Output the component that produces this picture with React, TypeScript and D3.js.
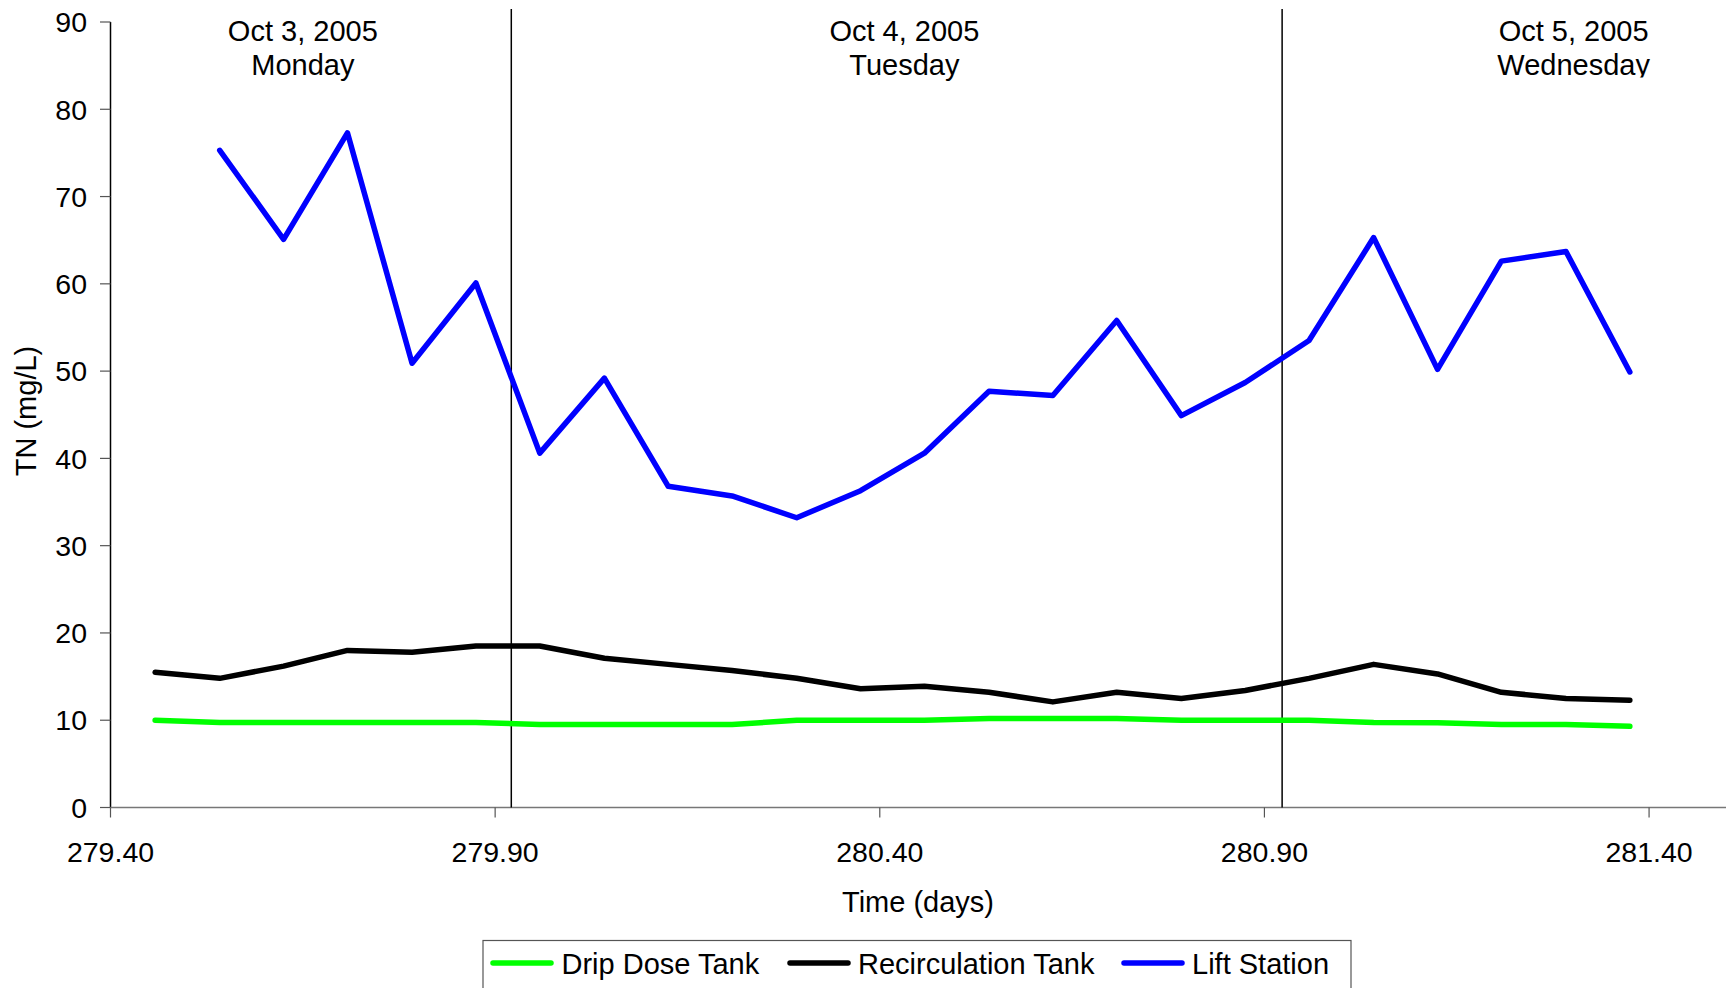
import React from 'react';
import * as d3 from 'd3';

const times = [279.458, 279.542, 279.625, 279.708, 279.792, 279.875, 279.958, 280.042, 280.125, 280.208, 280.292, 280.375, 280.458, 280.542, 280.625, 280.708, 280.792, 280.875, 280.958, 281.042, 281.125, 281.208, 281.292, 281.375];
const dripDose = [10.0, 9.75, 9.75, 9.75, 9.75, 9.75, 9.5, 9.5, 9.5, 9.5, 10.0, 10.0, 10.0, 10.2, 10.2, 10.2, 10.0, 10.0, 10.0, 9.75, 9.7, 9.5, 9.5, 9.3];
const recirculation = [15.5, 14.8, 16.2, 18.0, 17.8, 18.5, 18.5, 17.1, 16.4, 15.7, 14.8, 13.6, 13.9, 13.2, 12.1, 13.2, 12.5, 13.4, 14.8, 16.4, 15.3, 13.2, 12.5, 12.3];
const liftStation = [null, 75.3, 65.1, 77.3, 50.9, 60.1, 40.6, 49.2, 36.8, 35.7, 33.2, 36.3, 40.6, 47.7, 47.2, 55.8, 44.9, 48.7, 53.5, 65.3, 50.2, 62.6, 63.7, 49.9];

const seriesNames = ['Drip Dose Tank', 'Recirculation Tank', 'Lift Station'];
const seriesColors = ['#00ff00', '#000000', '#0000ff'];
const xTicks = [279.4, 279.9, 280.4, 280.9, 281.4];
const yTicks = [0, 10, 20, 30, 40, 50, 60, 70, 80, 90];
const dayDividers = [279.921, 280.923];
const dayLabels = [
  { x: 279.65, date: 'Oct 3, 2005', day: 'Monday', clipped: false },
  { x: 280.432, date: 'Oct 4, 2005', day: 'Tuesday', clipped: false },
  { x: 281.302, date: 'Oct 5, 2005', day: 'Wednesday', clipped: true },
];

const W = 1732, H = 988;
const FONT = 'Liberation Sans, Arial, sans-serif';

export default function App() {
  const x = d3.scaleLinear().domain([279.4, 281.5]).range([110.5, 1726]);
  const y = d3.scaleLinear().domain([0, 90]).range([807.5, 22]);
  const allSeries = [dripDose, recirculation, liftStation];
  const line = d3.line<number | null>()
    .defined((d) => d !== null)
    .x((_, i) => x(times[i]))
    .y((d) => y(d as number));

  const fs = 29;
  const tfs = 28.5;
  const legendX = 483, legendY = 940.5;
  const legendItems = [
    { lx: 493, tx: 561.5 },
    { lx: 790, tx: 858 },
    { lx: 1124, tx: 1192 },
  ];

  return (
    <svg width={W} height={H} style={{ position: 'absolute', left: 0, top: 0, background: '#fff' }} fontFamily={FONT}>
      <defs>
        <clipPath id="dayclip">
          <rect x={0} y={0} width={W} height={77.5} />
        </clipPath>
      </defs>
      <rect x={0} y={0} width={W} height={H} fill="#fff" />
      {/* day labels */}
      {dayLabels.map((d, i) => (
        <g key={i} clipPath={d.clipped ? 'url(#dayclip)' : undefined}>
          <text x={x(d.x)} y={41} textAnchor="middle" fontSize={fs}>{d.date}</text>
          <text x={x(d.x)} y={75} textAnchor="middle" fontSize={fs}>{d.day}</text>
        </g>
      ))}
      {/* y axis */}
      <line x1={110.5} x2={110.5} y1={y(90)} y2={y(0)} stroke="#000" strokeWidth={1.5} />
      {yTicks.map((t) => (
        <g key={t}>
          <line x1={100} x2={110.5} y1={y(t)} y2={y(t)} stroke="#555" strokeWidth={1.2} />
          <text x={87} y={y(t)} dy="0.36em" textAnchor="end" fontSize={tfs}>{t}</text>
        </g>
      ))}
      {/* x axis */}
      <line x1={110.5} x2={1726} y1={y(0)} y2={y(0)} stroke="#777" strokeWidth={1.5} />
      {xTicks.map((t) => (
        <g key={t}>
          <line x1={x(t)} x2={x(t)} y1={y(0)} y2={y(0) + 10} stroke="#555" strokeWidth={1.2} />
          <text x={x(t)} y={862} textAnchor="middle" fontSize={tfs}>{t.toFixed(2)}</text>
        </g>
      ))}
      {/* day dividers */}
      {dayDividers.map((d) => (
        <line key={d} x1={x(d)} x2={x(d)} y1={9} y2={y(0)} stroke="#000" strokeWidth={1.5} />
      ))}
      {/* series */}
      {allSeries.map((s, i) => (
        <path key={i} d={line(s as (number | null)[]) || ''} fill="none" stroke={seriesColors[i]} strokeWidth={5.5} strokeLinejoin="round" strokeLinecap="round" />
      ))}
      {/* axis titles */}
      <text x={918} y={912} textAnchor="middle" fontSize={fs}>Time (days)</text>
      <text transform={`translate(36,411) rotate(-90)`} textAnchor="middle" fontSize={fs}>TN (mg/L)</text>
      {/* legend */}
      <rect x={legendX} y={legendY} width={868} height={70} fill="#fff" stroke="#555" strokeWidth={1.2} />
      {seriesNames.map((n, i) => (
        <g key={n}>
          <line x1={legendItems[i].lx} x2={legendItems[i].lx + 58} y1={963} y2={963} stroke={seriesColors[i]} strokeWidth={5.5} strokeLinecap="round" />
          <text x={legendItems[i].tx} y={974} fontSize={fs}>{n}</text>
        </g>
      ))}
    </svg>
  );
}
